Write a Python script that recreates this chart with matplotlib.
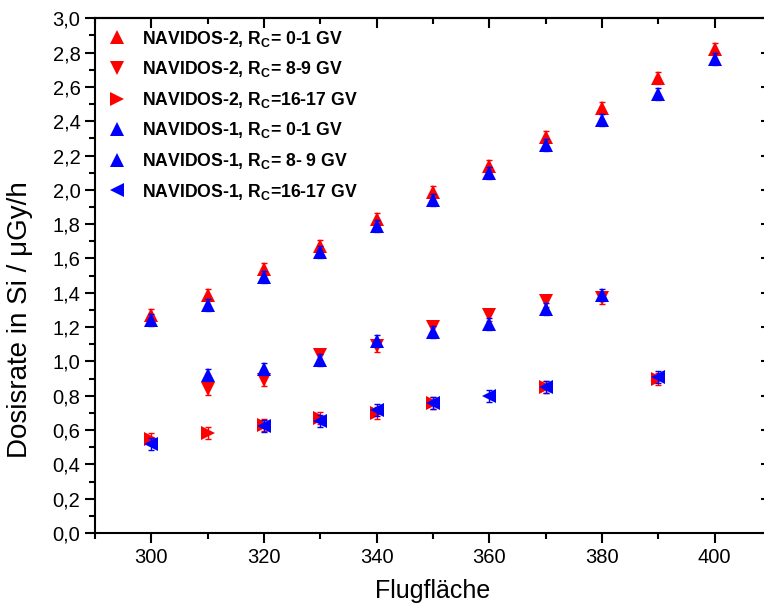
import numpy as np
import matplotlib
matplotlib.use('Agg')
import matplotlib.pyplot as plt
from matplotlib.ticker import MultipleLocator, FuncFormatter

plt.rcParams['font.family'] = ['Liberation Sans', 'DejaVu Sans']
plt.rcParams['mathtext.fontset'] = 'custom'
plt.rcParams['mathtext.rm'] = 'Liberation Sans'
plt.rcParams['mathtext.bf'] = 'Liberation Sans:bold'

nan = np.nan

# Flugflächen (FL)
flug = [300, 310, 320, 330, 340, 350, 360, 370, 380, 390, 400]

# NAVIDOS-2
n2_rc_0_1 = [1.27, 1.39, 1.54, 1.67, 1.83, 1.99, 2.14, 2.31, 2.48, 2.65, 2.82]
n2_rc_8_9 = [nan, 0.84, 0.89, 1.04, 1.09, 1.20, 1.27, 1.355, 1.37, nan, nan]
n2_rc_16_17 = [0.55, 0.58, 0.63, 0.67, 0.70, 0.755, nan, 0.85, nan, 0.90, nan]

# NAVIDOS-1
n1_rc_0_1 = [1.24, 1.33, 1.49, 1.64, 1.79, 1.94, 2.10, 2.26, 2.41, 2.56, 2.76]
n1_rc_8_9 = [nan, 0.92, 0.955, 1.01, 1.12, 1.17, 1.22, 1.305, 1.385, nan, nan]
n1_rc_16_17 = [0.52, nan, 0.625, 0.655, 0.715, 0.755, 0.80, 0.85, nan, 0.91, nan]

# Messunsicherheit
fehler = [0.035, 0.035, 0.035, 0.035, 0.035, 0.035, 0.035, 0.035, 0.035, 0.035, 0.035]

reihen = [
    (n2_rc_0_1, 'red', '^', r'NAVIDOS-2, R$_\mathbf{C}$= 0-1 GV'),
    (n2_rc_8_9, 'red', 'v', r'NAVIDOS-2, R$_\mathbf{C}$= 8-9 GV'),
    (n2_rc_16_17, 'red', '>', r'NAVIDOS-2, R$_\mathbf{C}$=16-17 GV'),
    (n1_rc_0_1, 'blue', '^', r'NAVIDOS-1, R$_\mathbf{C}$= 0-1 GV'),
    (n1_rc_8_9, 'blue', '^', r'NAVIDOS-1, R$_\mathbf{C}$= 8- 9 GV'),
    (n1_rc_16_17, 'blue', '<', r'NAVIDOS-1, R$_\mathbf{C}$=16-17 GV'),
]

fig = plt.figure(figsize=(7.64, 6.14), dpi=100)
ax = fig.add_axes([95 / 764, 81 / 614, 676 / 764, 514.7 / 614])

handles = []
for werte, farbe, marker, name in reihen:
    ax.errorbar(flug, werte, yerr=fehler, fmt='none', ecolor=farbe,
                elinewidth=1, capsize=2, capthick=1)
    h, = ax.plot(flug, werte, linestyle='none', marker=marker, color=farbe,
                 markersize=10.5, markeredgewidth=0, label=name)
    handles.append(h)

ax.set_xlim(290, 410)
ax.set_ylim(0, 3.0)
ax.xaxis.set_major_locator(MultipleLocator(20))
ax.xaxis.set_minor_locator(MultipleLocator(10))
ax.yaxis.set_major_locator(MultipleLocator(0.2))
ax.yaxis.set_minor_locator(MultipleLocator(0.1))
ax.yaxis.set_major_formatter(FuncFormatter(lambda y, _: '{:.1f}'.format(y).replace('.', ',')))

for s in ax.spines.values():
    s.set_linewidth(1.5)
ax.tick_params(which='major', direction='out', length=7.5, width=1.5, labelsize=14.5, pad=3)
ax.tick_params(which='minor', direction='out', length=4, width=1.5)

# Gegenachsen oben und rechts mit Ticks nach innen
oben = ax.secondary_xaxis('top')
oben.xaxis.set_major_locator(MultipleLocator(20))
oben.xaxis.set_minor_locator(MultipleLocator(10))
oben.tick_params(which='major', direction='in', length=7.5, width=1.5, labeltop=False)
oben.tick_params(which='minor', direction='in', length=4, width=1.5)
rechts = ax.secondary_yaxis('right')
rechts.yaxis.set_major_locator(MultipleLocator(0.2))
rechts.yaxis.set_minor_locator(MultipleLocator(0.1))
rechts.tick_params(which='major', direction='in', length=7.5, width=1.5, labelright=False)
rechts.tick_params(which='minor', direction='in', length=4, width=1.5)
for s in list(oben.spines.values()) + list(rechts.spines.values()):
    s.set_linewidth(1.5)

ax.set_xlabel('Flugfläche', fontsize=18, labelpad=9)
ax.set_ylabel('Dosisrate in Si / μGy/h', fontsize=20)
ax.yaxis.set_label_coords(-0.092, 0.414)

ax.legend(handles=handles, loc='upper left', bbox_to_anchor=(0.02, 0.98),
          frameon=False, numpoints=1, handlelength=1.0, handletextpad=0.9,
          labelspacing=0.6, borderpad=0, borderaxespad=0,
          prop={'weight': 'bold', 'size': 12.7})

fig.savefig('out.png', dpi=100)
